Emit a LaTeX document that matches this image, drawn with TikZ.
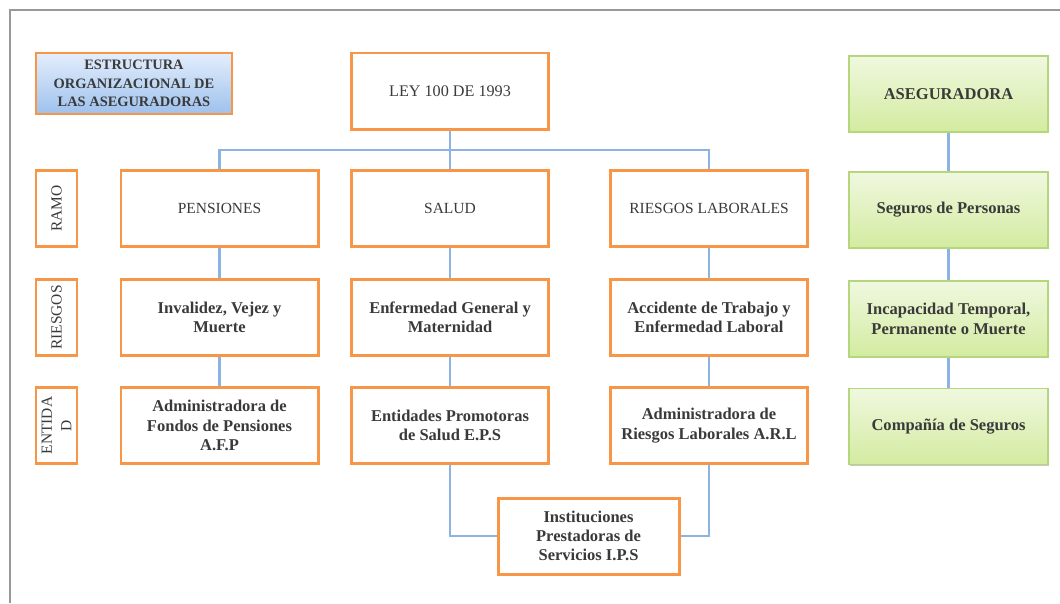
\documentclass[tikz,border=0pt]{standalone}
\usepackage{fontspec}
\setmainfont{Liberation Serif}
\usepackage{tikz}
\usetikzlibrary{calc, shadows}
\definecolor{boxorange}{HTML}{F79646}
\definecolor{wireblue}{HTML}{8DB3E2}
\definecolor{textgray}{HTML}{3A3A3A}
\definecolor{greentop}{HTML}{F0F8DF}
\definecolor{greenbot}{HTML}{D3EBA0}
\definecolor{greenline}{HTML}{B4D67C}
\definecolor{bluetop}{HTML}{E3EEFC}
\definecolor{bluebot}{HTML}{9EC1EE}
\tikzset{
    my-font/.style={
        font=\fontsize{8.8}{11}\selectfont, text=textgray, align=center
    },
    my-bold-font/.style={
        font=\fontsize{9.4}{11}\selectfont\bfseries, text=textgray, align=center
    },
    my-orange-box/.style={
        my-font, draw=boxorange, line width=1.7pt, fill=white,
        minimum width=3.94cm, minimum height=1.52cm, inner sep=2pt
    },
    my-label-box/.style={
        my-font, draw=boxorange, line width=1.7pt, fill=white, rotate=90,
        minimum width=1.52cm, minimum height=0.82cm, inner sep=1pt
    },
    my-green-box/.style={
        my-bold-font,
        draw=greenline, line width=0.6pt, top color=greentop, bottom color=greenbot,
        minimum width=3.98cm, minimum height=1.52cm, inner sep=2pt,
        drop shadow={shadow xshift=0.6pt, shadow yshift=-0.6pt, opacity=0.45}
    },
    my-title-box/.style={
        my-font, font=\fontsize{8.2}{10.5}\selectfont\bfseries,
        draw=boxorange, line width=0.6pt, top color=bluetop, bottom color=bluebot,
        minimum width=3.92cm, minimum height=1.22cm, inner sep=1pt
    },
    my-wire/.style={
        draw=wireblue, line width=1.6pt
    },
}
\begin{document}
\begin{tikzpicture}

        \useasboundingbox (0,0) rectangle (21.2,-12.06);

        % FRAME
        \draw[gray!80, line width=1.2pt] (21.2,-0.2) -- (0.2,-0.2) -- (0.2,-12.06);

        % TITLE AND LAW
        \node[my-title-box]  (TITLE) at (2.68,-1.67)  {ESTRUCTURA\\ORGANIZACIONAL DE\\LAS ASEGURADORAS};
        \node[my-orange-box, font=\fontsize{9.2}{11}\selectfont] (LEY) at (9.0,-1.82) {LEY 100 DE 1993};

        % ROW LABELS
        \node[my-label-box]  (RAMO)  at (1.13,-4.17)  {RAMO};
        \node[my-label-box]  (RIES)  at (1.13,-6.35)  {RIESGOS};
        \node[my-label-box]  (ENT)   at (1.13,-8.51)  {ENTIDA\\D};

        % RAMO
        \node[my-orange-box] (PENS)  at (4.39,-4.17)  {PENSIONES};
        \node[my-orange-box] (SALUD) at (9.0,-4.17)   {SALUD};
        \node[my-orange-box] (RL)    at (14.18,-4.17) {RIESGOS LABORALES};

        % RIESGOS
        \node[my-orange-box, my-bold-font] (IVM)  at (4.39,-6.35)  {Invalidez, Vejez y\\Muerte};
        \node[my-orange-box, my-bold-font] (EGM)  at (9.0,-6.35)   {Enfermedad General y\\Maternidad};
        \node[my-orange-box, my-bold-font] (ATEL) at (14.18,-6.35) {Accidente de Trabajo y\\Enfermedad Laboral};

        % ENTIDAD
        \node[my-orange-box, my-bold-font] (AFP) at (4.39,-8.51)  {Administradora de\\Fondos de Pensiones\\A.F.P};
        \node[my-orange-box, my-bold-font] (EPS) at (9.0,-8.51)   {Entidades Promotoras\\de Salud E.P.S};
        \node[my-orange-box, my-bold-font] (ARL) at (14.18,-8.51) {Administradora de\\Riesgos Laborales A.R.L};
        \node[my-orange-box, my-bold-font, minimum width=3.62cm] (IPS) at (11.77,-10.72) {Instituciones\\Prestadoras de\\Servicios I.P.S};

        % ASEGURADORA COLUMN
        \node[my-green-box]  (ASEG)  at (18.97,-1.88) {ASEGURADORA};
        \node[my-green-box]  (SP)    at (18.97,-4.2)  {Seguros de Personas};
        \node[my-green-box]  (INC)   at (18.97,-6.38) {Incapacidad Temporal,\\Permanente o Muerte};
        \node[my-green-box]  (COMP)  at (18.97,-8.53) {Compa\~n\'ia de Seguros};

        % BUS CONNECTOR POINT
        \coordinate[]        (BUS)   at (9.0,-3.0);

        % CONNECTIONS
        \draw[my-wire] (LEY) -- (SALUD);
        \draw[my-wire] (PENS.north) |- (BUS) -| (RL.north);
        \draw[my-wire] (PENS) -- (IVM);
        \draw[my-wire] (IVM)  -- (AFP);
        \draw[my-wire] (SALUD) -- (EGM);
        \draw[my-wire] (EGM)  -- (EPS);
        \draw[my-wire] (RL)   -- (ATEL);
        \draw[my-wire] (ATEL) -- (ARL);
        \draw[my-wire] (EPS.south) |- (IPS.west);
        \draw[my-wire] (ARL.south) |- (IPS.east);

        % ASEGURADORA CONNECTIONS
        \draw[my-wire] (ASEG) -- (SP);
        \draw[my-wire] (SP)   -- (INC);
        \draw[my-wire] (INC)  -- (COMP);

    \end{tikzpicture}
\end{document}
